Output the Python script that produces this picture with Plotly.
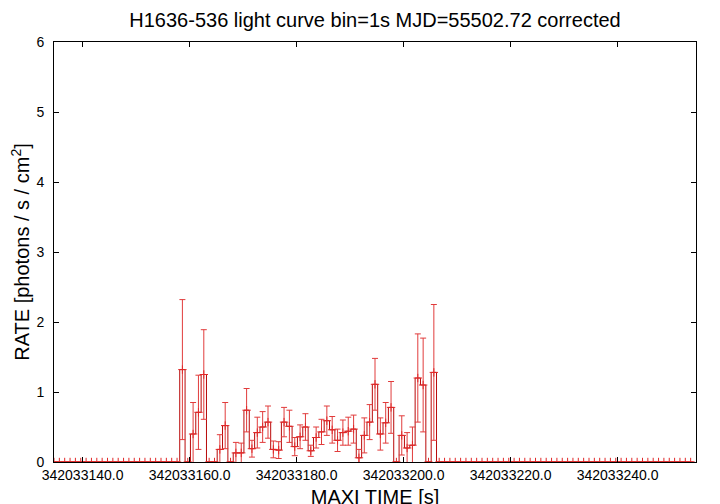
import plotly.graph_objects as go

# 1-s bins, bin centres (MAXI time, s)
time_start = 342033134.66
bin_width = 1.0
n_lead_zero = 24
n_trail_zero = 48

active_rate = [1.32, 0.0, 0.40, 0.71, 1.25, 0.0, 0.0, 0.18, 0.52, 0.0,
               0.13, 0.13, 0.74, 0.19, 0.42, 0.50, 0.57, 0.18, 0.17, 0.57,
               0.51, 0.22, 0.36, 0.50, 0.16, 0.35, 0.43, 0.59, 0.46, 0.31,
               0.42, 0.44, 0.47, 0.06, 0.38, 0.57, 1.11, 0.40, 0.56, 0.78,
               0.0, 0.38, 0.20, 0.24, 1.20, 1.10, 0.0, 1.28]
active_err = [1.00, 0.0, 0.45, 0.53, 0.64, 0.0, 0.0, 0.21, 0.33, 0.0,
              0.15, 0.14, 0.31, 0.12, 0.22, 0.22, 0.23, 0.12, 0.12, 0.21,
              0.23, 0.13, 0.17, 0.19, 0.08, 0.15, 0.18, 0.21, 0.19, 0.16,
              0.18, 0.20, 0.20, 0.12, 0.25, 0.25, 0.37, 0.23, 0.29, 0.37,
              0.0, 0.28, 0.22, 0.26, 0.63, 0.67, 0.0, 0.97]

rate = [0.0] * n_lead_zero + active_rate + [0.0] * n_trail_zero
err = [0.0] * n_lead_zero + active_err + [0.0] * n_trail_zero
time = [time_start + i * bin_width for i in range(len(rate))]

x_tickvals = [342033140, 342033160, 342033180, 342033200, 342033220, 342033240]
x_ticktext = ["342033140.0", "342033160.0", "342033180.0", "342033200.0",
              "342033220.0", "342033240.0"]
y_tickvals = [0, 1, 2, 3, 4, 5, 6]

title = "H1636-536 light curve bin=1s MJD=55502.72 corrected"

fig = go.Figure()
fig.add_trace(go.Scatter(
    x=time, y=rate, mode="lines", line=dict(shape="hvh", color="rgb(185,10,10)", width=1),
    hoverinfo="skip", showlegend=False))
fig.add_trace(go.Scatter(
    x=time, y=rate, mode="markers",
    marker=dict(symbol="cross-thin", size=6, line=dict(color="rgb(225,40,40)", width=1)),
    error_y=dict(type="data", array=err, visible=True, color="rgb(225,60,60)",
                 thickness=1, width=3),
    showlegend=False))

# page body adds an 8px offset; margins compensate
font_family = "Liberation Sans, Arial, sans-serif"
fig.update_layout(
    width=720, height=504,
    margin=dict(l=46, r=32, t=34, b=50, autoexpand=False),
    paper_bgcolor="white", plot_bgcolor="white",
    font=dict(family=font_family, color="black", size=14),
    title=dict(text=title, x=0.5, xanchor="center", xref="paper",
               yref="container", y=1 - 12 / 504, yanchor="middle",
               font=dict(size=20, family=font_family), automargin=False),
    showlegend=False,
)
fig.update_xaxes(
    range=[time_start, time_start + 120 * bin_width],
    tickvals=x_tickvals, ticktext=x_ticktext, automargin=False,
    ticks="inside", ticklen=5, tickcolor="black", mirror="allticks",
    showline=True, linecolor="black", linewidth=1, showgrid=False, zeroline=False,
    tickfont=dict(size=14),
    title=dict(text="MAXI TIME [s]", font=dict(size=20), standoff=8),
)
fig.update_yaxes(
    range=[0, 6], tickvals=y_tickvals, automargin=False,
    ticks="inside", ticklen=5, tickcolor="black", mirror="allticks",
    showline=True, linecolor="black", linewidth=1, showgrid=False, zeroline=False,
    tickfont=dict(size=14), ticklabelstandoff=6,
    title=dict(text="RATE [photons / s / cm<sup>2</sup>]", font=dict(size=20), standoff=8),
)

fig.write_html("out.html")
